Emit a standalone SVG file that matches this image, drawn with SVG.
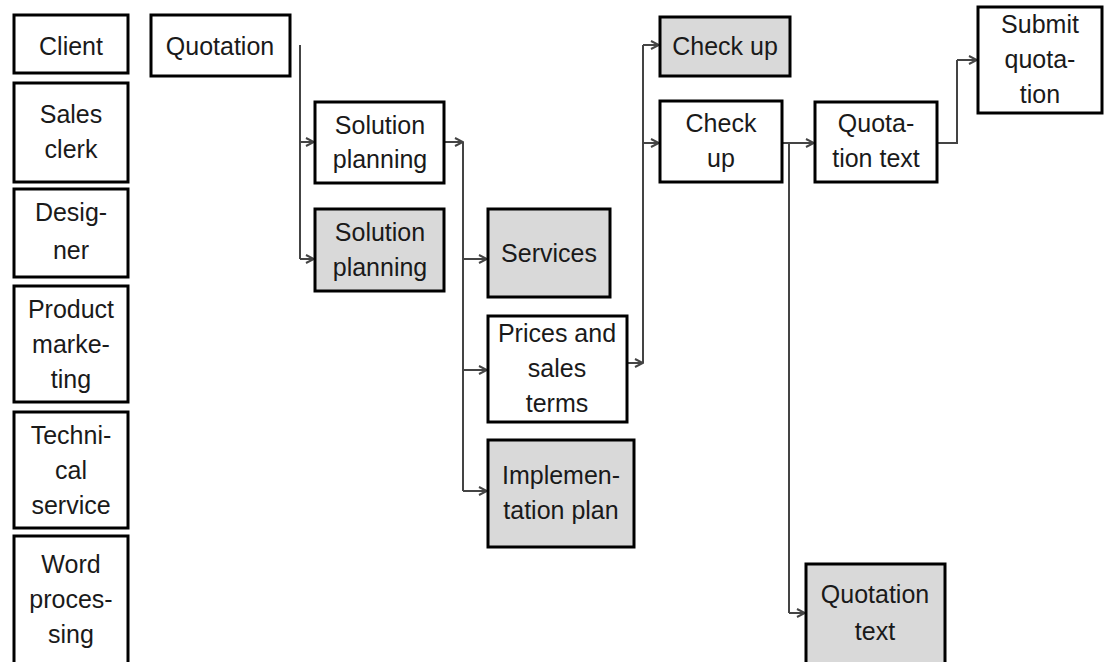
<svg xmlns="http://www.w3.org/2000/svg" width="1104" height="662" viewBox="0 0 1104 662">
  <defs>
    <marker id="arrow" markerWidth="10" markerHeight="10" refX="9" refY="5" orient="auto" markerUnits="userSpaceOnUse">
      <path d="M1,1 L9,5 L1,9" fill="none" stroke="#444" stroke-width="2"/>
    </marker>
    <style>
      .box { fill: #ffffff; stroke: #000; stroke-width: 3; }
      .box.gray { fill: #d9d9d9; }
      .lbl { font-family: "Liberation Sans", Arial, sans-serif; font-size: 25px; fill: #1a1a1a; text-anchor: middle; }
      .conn { fill: none; stroke: #444; stroke-width: 2; }
      .arr { fill: none; stroke: #444; stroke-width: 2; marker-end: url(#arrow); }
    </style>
  </defs>
  <rect width="1104" height="662" fill="#ffffff"/>

  <!-- role column -->
  <g id="client"><rect class="box" x="14" y="15" width="114" height="58"/><text class="lbl" x="71" y="55">Client</text></g>
  <g id="sales-clerk"><rect class="box" x="14" y="83" width="114" height="99"/><text class="lbl" x="71" y="123">Sales</text><text class="lbl" x="71" y="158">clerk</text></g>
  <g id="designer"><rect class="box" x="14" y="189" width="114" height="88"/><text class="lbl" x="71" y="221">Desig-</text><text class="lbl" x="71" y="259">ner</text></g>
  <g id="product-marketing"><rect class="box" x="14" y="286" width="114" height="116"/><text class="lbl" x="71" y="318">Product</text><text class="lbl" x="71" y="353">marke-</text><text class="lbl" x="71" y="388">ting</text></g>
  <g id="technical-service"><rect class="box" x="14" y="412" width="114" height="116"/><text class="lbl" x="71" y="444">Techni-</text><text class="lbl" x="71" y="479">cal</text><text class="lbl" x="71" y="514">service</text></g>
  <g id="word-processing"><rect class="box" x="14" y="536" width="114" height="132"/><text class="lbl" x="71" y="573">Word</text><text class="lbl" x="71" y="608">proces-</text><text class="lbl" x="71" y="643">sing</text></g>

  <!-- connectors -->
  <g id="connectors">
    <!-- Quotation splits into the two solution-planning steps -->
    <path class="conn" d="M300,45 V259"/>
    <path class="arr" d="M300,142 H314"/>
    <path class="arr" d="M300,259 H314"/>

    <!-- Solution planning fans out to services, prices and implementation plan -->
    <path class="arr" d="M444,142 H463"/>
    <path class="conn" d="M463,142 V491"/>
    <path class="arr" d="M463,259 H487"/>
    <path class="arr" d="M463,370 H487"/>
    <path class="arr" d="M463,491 H487"/>

    <!-- Prices and sales terms go to both check-ups -->
    <path class="arr" d="M627,363 H643"/>
    <path class="conn" d="M643,363 V45"/>
    <path class="arr" d="M643,45 H659"/>
    <path class="arr" d="M643,143 H659"/>

    <!-- Check up feeds both quotation texts -->
    <path class="arr" d="M782,143 H814"/>
    <path class="conn" d="M789,143 V613"/>
    <path class="arr" d="M789,613 H805"/>

    <!-- Quotation text leads to submission -->
    <path class="conn" d="M937,143 H957 V60"/>
    <path class="arr" d="M957,60 H977"/>
  </g>

  <!-- process nodes -->
  <g id="quotation"><rect class="box" x="151" y="15" width="139" height="61"/><text class="lbl" x="220" y="55">Quotation</text></g>
  <g id="solution-planning-1"><rect class="box" x="315" y="102" width="129" height="81"/><text class="lbl" x="380" y="134">Solution</text><text class="lbl" x="380" y="168">planning</text></g>
  <g id="solution-planning-2"><rect class="box gray" x="315" y="209" width="129" height="82"/><text class="lbl" x="380" y="241">Solution</text><text class="lbl" x="380" y="276">planning</text></g>
  <g id="services"><rect class="box gray" x="488" y="209" width="122" height="88"/><text class="lbl" x="549" y="262">Services</text></g>
  <g id="prices"><rect class="box" x="488" y="316" width="139" height="106"/><text class="lbl" x="557" y="342">Prices and</text><text class="lbl" x="557" y="377">sales</text><text class="lbl" x="557" y="412">terms</text></g>
  <g id="implementation-plan"><rect class="box gray" x="488" y="440" width="146" height="107"/><text class="lbl" x="561" y="484">Implemen-</text><text class="lbl" x="561" y="519">tation plan</text></g>
  <g id="check-up-1"><rect class="box gray" x="660" y="17" width="130" height="59"/><text class="lbl" x="725" y="55">Check up</text></g>
  <g id="check-up-2"><rect class="box" x="660" y="101" width="122" height="81"/><text class="lbl" x="721" y="132">Check</text><text class="lbl" x="721" y="167">up</text></g>
  <g id="quotation-text-1"><rect class="box" x="815" y="102" width="122" height="80"/><text class="lbl" x="876" y="132">Quota-</text><text class="lbl" x="876" y="167">tion text</text></g>
  <g id="submit-quotation"><rect class="box" x="978" y="7" width="124" height="106"/><text class="lbl" x="1040" y="33">Submit</text><text class="lbl" x="1040" y="68">quota-</text><text class="lbl" x="1040" y="103">tion</text></g>
  <g id="quotation-text-2"><rect class="box gray" x="806" y="564" width="139" height="104"/><text class="lbl" x="875" y="603">Quotation</text><text class="lbl" x="875" y="640">text</text></g>
</svg>
